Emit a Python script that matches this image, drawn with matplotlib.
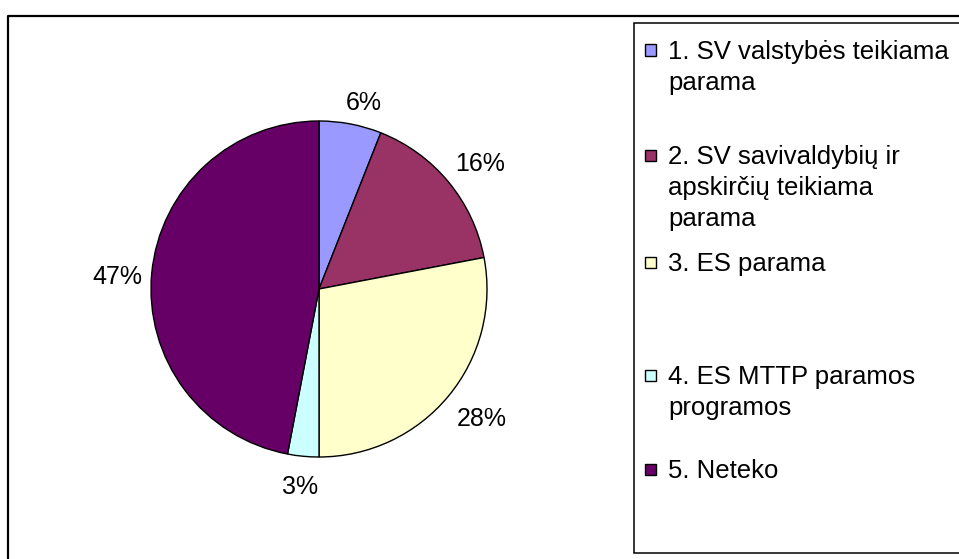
import matplotlib
matplotlib.use("Agg")
import matplotlib.pyplot as plt
from matplotlib.patches import Rectangle
from matplotlib.lines import Line2D
import numpy as np

plt.rcParams["font.family"] = ["Liberation Sans", "DejaVu Sans"]

# duomenys
categories = [
    "1. SV valstybės teikiama\nparama",
    "2. SV savivaldybių ir\napskirčių teikiama\nparama",
    "3. ES parama",
    "4. ES MTTP paramos\nprogramos",
    "5. Neteko",
]
shares = [6, 16, 28, 3, 47]
colors = ["#9999FF", "#993366", "#FFFFCC", "#CCFFFF", "#660066"]

# label placement: distance from centre (radii) and angle nudge (deg, ccw)
label_r = [1.14, 1.215, 1.237, 1.184, 1.20]
label_nudge = [-2.8, -1.7, 1.0, 0.0, 1.9]

W, H = 959, 559
fig = plt.figure(figsize=(W / 100, H / 100), dpi=100)

# pie centre (319, 289) px, radius 168 px
cx, cy, r = 319, 289, 168
ax = fig.add_axes([(cx - r) / W, (H - cy - r) / H, 2 * r / W, 2 * r / H])
wedges, _, autotexts = ax.pie(
    shares,
    colors=colors,
    startangle=90,
    counterclock=False,
    autopct="%1.0f%%",
    pctdistance=1.2,
    wedgeprops=dict(edgecolor="black", linewidth=1.0),
    textprops=dict(fontsize=18, color="black"),
)
for w, t, d, nd in zip(wedges, autotexts, label_r, label_nudge):
    ang = np.deg2rad((w.theta1 + w.theta2) / 2 + nd)
    t.set_position((d * np.cos(ang), d * np.sin(ang)))
    t.set_ha("center")
    t.set_va("center")
ax.set_xlim(-1, 1)
ax.set_ylim(-1, 1)
ax.set_aspect("equal")
ax.axis("off")

# outer chart border (left + top visible)
fig.add_artist(Line2D([8 / W, 8 / W, 1.01], [-0.01, (H - 16) / H, (H - 16) / H],
                      transform=fig.transFigure, color="black", linewidth=1.6))

# legend box
fig.add_artist(Rectangle((634 / W, (H - 553) / H), 0.5, (553 - 23) / H,
                         transform=fig.transFigure, facecolor="white",
                         edgecolor="black", linewidth=1.1))

first_center = [50, 155, 262, 375, 469]
line_step = 31
for lab, col, yc in zip(categories, colors, first_center):
    fig.add_artist(Rectangle((645 / W, (H - yc - 5.5) / H), 11 / W, 11 / H,
                             transform=fig.transFigure, facecolor=col,
                             edgecolor="black", linewidth=1.0))
    for i, line in enumerate(lab.split("\n")):
        fig.text(668 / W, (H - yc - 9 - i * line_step) / H, line, fontsize=18.5,
                 ha="left", va="baseline")

fig.savefig("out.png", dpi=100)
